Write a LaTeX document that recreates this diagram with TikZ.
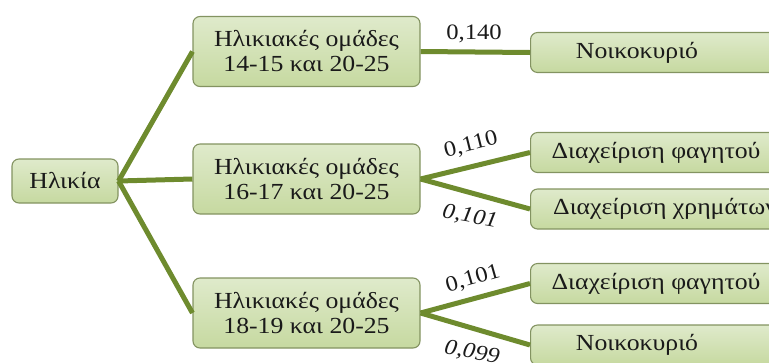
\documentclass[tikz,border=0pt]{standalone}
\usepackage{fontspec}
\setmainfont{Liberation Serif}[Script=Greek, FakeStretch=1.12]
\definecolor{boxtop}{HTML}{DFEACB}
\definecolor{boxbot}{HTML}{C6D9A0}
\definecolor{boxedge}{HTML}{839361}
\definecolor{branch}{HTML}{6E8B2E}
\definecolor{ink}{HTML}{1A1A1A}
\tikzset{
  card/.style={draw=boxedge, line width=1.1pt, rounded corners=7pt,
    top color=boxtop, bottom color=boxbot, inner sep=0pt,
    text=ink, font=\fontsize{23}{25}\selectfont, align=center},
  rootbox/.style={card, minimum width=106pt, minimum height=44pt},
  groupbox/.style={card, minimum width=227pt, minimum height=70pt},
  leafbox/.style={card, minimum width=270pt, minimum height=40pt, anchor=west},
  leaftext/.style={text=ink, font=\fontsize{23}{25}\selectfont, inner sep=0pt},
  weight/.style={text=ink, font=\fontsize{22}{24}\selectfont, inner sep=0pt},
  slanted/.style={weight, font=\fontsize{22}{24}\selectfont\itshape},
  link/.style={draw=branch, line width=5pt}
}
\begin{document}
\begin{tikzpicture}[x=1pt, y=-1pt]
\useasboundingbox (0,0) rectangle (769,362);
\clip (0,0) rectangle (769,362);

% root and age groups
\node[rootbox] (age) at (65,181) {Ηλικία};
\node[groupbox] (g1) at (306.5,51.5) {Ηλικιακές ομάδες\\14-15 και 20-25};
\node[groupbox] (g2) at (306.5,179) {Ηλικιακές ομάδες\\16-17 και 20-25};
\node[groupbox] (g3) at (306.5,313) {Ηλικιακές ομάδες\\18-19 και 20-25};

% outcome boxes (they run past the right edge)
\node[leafbox] (o1) at (530,52.5) {};
\node[leafbox] (o2) at (530,152.5) {};
\node[leafbox] (o3) at (530,209) {};
\node[leafbox] (o4) at (530,283.5) {};
\node[leafbox] (o5) at (530,345) {};
\node[leaftext] (t1) at (637,52.5) {Νοικοκυριό};
\node[leaftext] (t2) at (656,152.5) {Διαχείριση φαγητού};
\node[leaftext, anchor=west] (t3) at (553,209) {Διαχείριση χρημάτων};
\node[leaftext] (t4) at (656,283.5) {Διαχείριση φαγητού};
\node[leaftext] (t5) at (637,345) {Νοικοκυριό};

% branches
\draw[link] (age.east) -- (g1.west);
\draw[link] (age.east) -- (g2.west);
\draw[link] (age.east) -- (g3.west);
\draw[link] (g1.east) -- (o1.west);
\draw[link] (g2.east) -- (o2.west);
\draw[link] (g2.east) -- (o3.west);
\draw[link] (g3.east) -- (o4.west);
\draw[link] (g3.east) -- (o5.west);

% branch weights
\node[weight] (w1) at (474,34) {0,140};
\node[weight, rotate=14] (w2) at (471,145) {0,110};
\node[slanted, rotate=-10] (w3) at (470,217) {0,101};
\node[weight, rotate=16] (w4) at (473,279) {0,101};
\node[slanted, rotate=-10] (w5) at (472,353) {0,099};
\end{tikzpicture}
\end{document}
